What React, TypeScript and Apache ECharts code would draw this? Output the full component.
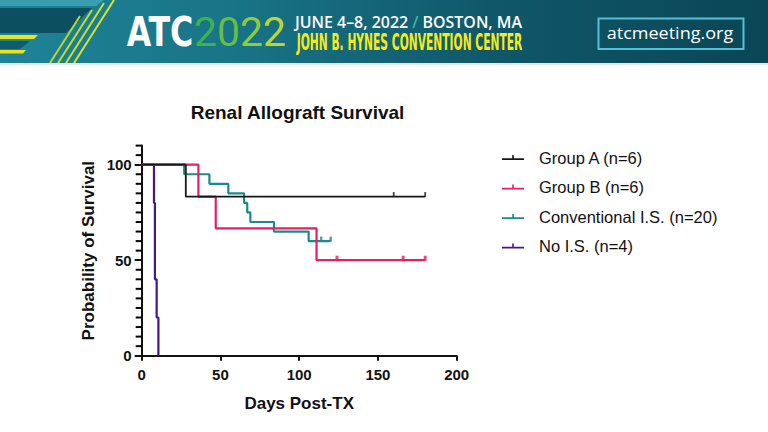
import React, { useEffect, useRef } from 'react';
import * as echarts from 'echarts';

// ---------- data ----------
const seriesNames = ['Group A (n=6)', 'Group B (n=6)', 'Conventional I.S. (n=20)', 'No I.S. (n=4)'];
const seriesColors = ['#161616', '#EA1E63', '#1B8A89', '#43198A'];

const groupADays = [0, 28, 180];
const groupASurvival = [100, 83.33, 83.33];
const groupACensorDays = [160, 180];
const groupACensorSurvival = [83.33, 83.33];

const groupBDays = [0, 36, 47, 111, 180];
const groupBSurvival = [100, 83.33, 66.67, 50, 50];
const groupBCensorDays = [124, 166, 180];
const groupBCensorSurvival = [50, 50, 50];

const convDays = [0, 27, 43, 55, 65, 67, 69, 84, 106, 120];
const convSurvival = [100, 95, 90, 85, 80, 75, 70, 65, 60, 60];
const convCensorDays = [114, 120];
const convCensorSurvival = [60, 60];

const noISDays = [0, 7.8, 8.4, 9.5, 10.6];
const noISSurvival = [100, 80, 40, 20, 0];

const xTickValues = [0, 50, 100, 150, 200];
const yLabelValues = [0, 50, 100];
const yMinorTickValues = [5, 10, 15, 20, 25, 30, 35, 40, 45, 55, 60, 65, 70, 75, 80, 85, 90, 95, 105, 110];

const FONT = '"Liberation Sans", Arial, Helvetica, sans-serif';

function pairs(xs: number[], ys: number[]) {
  return xs.map((x, i) => [x, ys[i]]);
}

function fitScale(text: string, font: string, width: number) {
  const c = document.createElement('canvas').getContext('2d');
  if (!c) return 1;
  c.font = font;
  const w = c.measureText(text).width;
  return w > 0 ? width / w : 1;
}

export default function App() {
  const ref = useRef<HTMLDivElement>(null);

  useEffect(() => {
    if (!ref.current) return;
    const chart = echarts.init(ref.current, null, { renderer: 'svg' });

    const lineSeries = (idx: number, xs: number[], ys: number[], width: number, z: number) => ({
      type: 'line',
      name: seriesNames[idx],
      data: pairs(xs, ys),
      step: 'end',
      showSymbol: false,
      color: seriesColors[idx],
      lineStyle: { color: seriesColors[idx], width },
      itemStyle: { color: seriesColors[idx] },
      emphasis: { disabled: true },
      z,
    });
    const censorSeries = (idx: number, xs: number[], ys: number[], size: number[], z: number) => ({
      type: 'scatter',
      name: 'censor-' + idx,
      data: pairs(xs, ys),
      symbol: 'rect',
      symbolSize: size,
      symbolOffset: [0, -size[1] / 2 + 0.5],
      itemStyle: { color: seriesColors[idx] },
      emphasis: { disabled: true },
      silent: true,
      z,
    });

    // header texts
    const atcFont = 'bold 41px "Liberation Sans Narrow", "DejaVu Sans Condensed", Arial, sans-serif';
    const yrFont = '41px Roboto, "Liberation Sans", sans-serif';
    const dateFont = '600 16px "Open Sans", "Noto Sans", sans-serif';
    const venueFont = 'bold 23px "Liberation Sans Narrow", "DejaVu Sans Condensed", Arial, sans-serif';
    const urlFont = '500 15.5px "Open Sans", "Noto Sans", sans-serif';
    const dateText = 'JUNE 4–8, 2022 / BOSTON, MA';
    const venueText = 'JOHN B. HYNES CONVENTION CENTER';

    const option: any = {
      animation: false,
      backgroundColor: '#ffffff',
      grid: { left: 141.7, right: 311.3, top: 145.6, bottom: 76.3, containLabel: false, outerBoundsMode: 'none' },
      legend: {
        data: seriesNames,
        orient: 'vertical',
        left: 502,
        top: 147.5,
        padding: 0,
        itemWidth: 22,
        itemHeight: 5,
        itemGap: 9.5,
        icon: 'path://M0,3.2h22v1.8h-22z M10.2,0h1.6v3.2h-1.6z',
        selectedMode: false,
        textStyle: { fontSize: 16.5, fontFamily: FONT, color: '#111', lineHeight: 20, padding: [0, 0, 0, 10] },
      },
      xAxis: {
        type: 'value',
        min: 0,
        max: 200,
        interval: 50,
        name: 'Days Post-TX',
        nameLocation: 'middle',
        nameGap: 39,
        nameTextStyle: { fontSize: 17, fontWeight: 'bold', fontFamily: FONT, color: '#111' },
        axisLine: { lineStyle: { color: '#111', width: 2 } },
        axisTick: { show: true, length: 5, customValues: xTickValues, lineStyle: { color: '#111', width: 2 } },
        axisLabel: {
          fontSize: 15, fontWeight: 'bold', fontFamily: FONT, color: '#111', margin: 11,
          customValues: xTickValues,
        },
        splitLine: { show: false },
      },
      yAxis: {
        type: 'value',
        min: 0,
        max: 110,
        interval: 50,
        position: 'left',
        name: 'Probability of Survival',
        nameLocation: 'middle',
        nameGap: 45,
        nameTextStyle: { fontSize: 17, fontWeight: 'bold', fontFamily: FONT, color: '#111' },
        axisLine: { show: true, lineStyle: { color: '#111', width: 2 } },
        axisTick: { show: true, length: 7, customValues: yLabelValues, lineStyle: { color: '#111', width: 2 } },
        axisLabel: {
          fontSize: 15, fontWeight: 'bold', fontFamily: FONT, color: '#111', margin: 10,
          customValues: yLabelValues,
        },
        splitLine: { show: false },
      },
      series: [
        {
          // minor ticks of the y axis, placed through the axis scale
          type: 'scatter',
          name: 'y-minor-ticks',
          data: yMinorTickValues.map((v) => [0, v]),
          symbol: 'rect',
          symbolSize: [6, 2],
          symbolOffset: [-3, 0],
          itemStyle: { color: '#000000', opacity: 1 },
          clip: false,
          silent: true,
          emphasis: { disabled: true },
          z: 10,
        },
        lineSeries(3, noISDays, noISSurvival, 2.2, 2),
        lineSeries(2, convDays, convSurvival, 2.2, 3),
        censorSeries(2, convCensorDays, convCensorSurvival, [2.4, 5], 3),
        lineSeries(1, groupBDays, groupBSurvival, 2.2, 4),
        censorSeries(1, groupBCensorDays, groupBCensorSurvival, [3, 5], 4),
        lineSeries(0, groupADays, groupASurvival, 1.8, 5),
        censorSeries(0, groupACensorDays, groupACensorSurvival, [1.8, 5], 5),
      ],
      graphic: [
        // banner background
        {
          type: 'rect', left: 0, top: 0, z: 0,
          shape: { x: 0, y: 0, width: 768, height: 63 },
          style: {
            fill: new echarts.graphic.LinearGradient(0, 0, 1, 0, [
              { offset: 0, color: '#1f8397' },
              { offset: 0.3, color: '#197487' },
              { offset: 0.65, color: '#0f5769' },
              { offset: 1, color: '#0a4656' },
            ]),
          },
        },
        { type: 'rect', shape: { x: 0, y: 63, width: 768, height: 2 }, style: { fill: '#e3eaec' } },
        // left decoration
        { type: 'polygon', shape: { points: [[0, 0], [104, 0], [96, 6], [0, 6]] }, style: { fill: '#3a9db0' } },
        { type: 'polygon', shape: { points: [[0, 8], [92, 8], [66, 33], [0, 33]] }, style: { fill: '#0c4f60' } },
        { type: 'polygon', shape: { points: [[0, 41], [30, 41], [20, 49], [0, 49]] }, style: { fill: '#0e5c6d' } },
        { type: 'polygon', shape: { points: [[0, 35], [38, 35], [34, 39], [0, 39]] }, style: { fill: '#e8e41c' } },
        { type: 'polygon', shape: { points: [[0, 50], [26, 50], [23, 53.5], [0, 53.5]] }, style: { fill: '#e8e41c' } },
        { type: 'line', shape: { x1: 50, y1: 63, x2: 80, y2: 16 }, style: { stroke: '#b9d62f', lineWidth: 2 } },
        { type: 'line', shape: { x1: 58, y1: 63, x2: 92, y2: 10 }, style: { stroke: '#c4dc2c', lineWidth: 2 } },
        { type: 'line', shape: { x1: 66, y1: 63, x2: 104, y2: 3 }, style: { stroke: '#cde02a', lineWidth: 2 } },
        { type: 'line', shape: { x1: 74, y1: 63, x2: 114, y2: 0 }, style: { stroke: '#d6e428', lineWidth: 2 } },
        // ATC 2022
        {
          type: 'text', x: 126.7, y: 32, scaleX: fitScale('ATC', atcFont, 66.6),
          style: { text: 'ATC', font: atcFont, fill: '#ffffff', textAlign: 'left', textVerticalAlign: 'middle' },
        },
        {
          type: 'text', x: 194, y: 32, scaleX: fitScale('2022', yrFont, 92),
          style: {
            text: '{a|2}{b|0}{c|2}{d|2}', font: yrFont, textAlign: 'left', textVerticalAlign: 'middle',
            rich: {
              a: { fill: '#3db350', color: '#3db350', font: yrFont },
              b: { fill: '#63bf45', color: '#63bf45', font: yrFont },
              c: { fill: '#8fcb3b', color: '#8fcb3b', font: yrFont },
              d: { fill: '#bcd631', color: '#bcd631', font: yrFont },
            },
          },
        },
        {
          type: 'text', x: 295, y: 22.3, scaleX: fitScale(dateText, dateFont, 227),
          style: {
            text: '{w|JUNE 4–8, 2022 }{s|/}{w| BOSTON, MA}', font: dateFont, textAlign: 'left', textVerticalAlign: 'middle',
            rich: {
              w: { fill: '#ffffff', color: '#ffffff', font: dateFont },
              s: { fill: '#3fb7a0', color: '#3fb7a0', font: dateFont },
            },
          },
        },
        {
          type: 'text', x: 296.7, y: 41.5, scaleX: fitScale(venueText, venueFont, 226),
          style: { text: venueText, font: venueFont, fill: '#f3eb1e', textAlign: 'left', textVerticalAlign: 'middle' },
        },
        {
          type: 'rect', shape: { x: 598.5, y: 18.5, width: 145, height: 30.5 },
          style: { fill: 'none', stroke: '#55c0d8', lineWidth: 2 },
        },
        {
          type: 'text', x: 606.7, y: 33, scaleX: fitScale('atcmeeting.org', urlFont, 126.7),
          style: { text: 'atcmeeting.org', font: urlFont, fill: '#ffffff', textAlign: 'left', textVerticalAlign: 'middle' },
        },
        // chart title
        {
          type: 'text', x: 297.5, y: 112,
          style: {
            text: 'Renal Allograft Survival', fontSize: 19, fontWeight: 'bold', fontFamily: FONT,
            fill: '#111', textAlign: 'center', textVerticalAlign: 'middle',
          },
        },
      ],
    };

    chart.setOption(option);
    return () => chart.dispose();
  }, []);

  return (
    <div
      ref={ref}
      style={{ position: 'fixed', left: 0, top: 0, width: 768, height: 432, background: '#fff' }}
    />
  );
}
